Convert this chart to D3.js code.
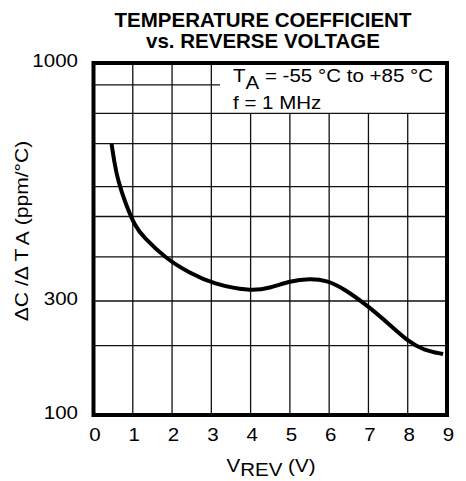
<!DOCTYPE html>
<html>
<head>
    <meta charset="utf-8">
    <style>
        body {
            margin: 0;
            background: #fff;
        }

        svg {
            display: block;
            font-family: "Liberation Sans", Arial, sans-serif;
        }

        .title {
            font-size: 20.5px;
            font-weight: bold;
            text-anchor: middle;
        }

        .label {
            font-size: 18px;
            fill: #000;
        }

        .grid line {
            stroke: #111;
            stroke-width: 1.3;
        }
    </style>
</head>

<body>
    <svg width="466" height="481"></svg>
</body>

<script src="https://d3js.org/d3.v7.min.js"></script>

<script>
    // values
    let vrev = [0.46, 0.53, 0.62, 0.80, 1.06, 1.27, 1.82, 2.46, 3.05, 3.98, 4.49, 5.0, 5.51, 5.94, 6.36, 7.01, 7.55, 8.01, 8.40, 8.90]
    let tempco = [664, 605, 553, 495, 437, 415, 373, 345, 327, 315, 320, 332, 336, 333, 320, 284, 238, 203, 187, 180]

    let xTicks = [0, 1, 2, 3, 4, 5, 6, 7, 8, 9]
    let yTicks = [100, 300, 1000]
    let yGrid = [195, 300, 375, 460, 535, 665, 775, 895]

    let titleLines = ["TEMPERATURE COEFFICIENT", "vs. REVERSE VOLTAGE"]

    let data = vrev.map((v, i) => ({ v: v, tc: tempco[i] }))

    let width = 466;
    let height = 481;
    let margin = { top: 63, right: 19, bottom: 66, left: 93.5 };

    // the scan is a bit wider than tall, so the lettering gets stretched sideways
    let stretch = 1.14

    let svg = d3.select("svg")

    let x = d3.scaleLinear()
        .domain([0, 9])
        .range([margin.left, width - margin.right])

    // the printed axis is not a clean log decade, 300 sits lower than it should
    let y = d3.scaleLog()
        .domain([100, 300, 1000])
        .range([height - margin.bottom, 301, margin.top])

    let plotTop = y(1000)
    let plotBottom = y(100)
    let legendTop = y(775)

    function label(parent, px, py, sx) {
        return parent.append("g")
            .attr("transform", `translate(${px},${py}) scale(${sx || stretch},1)`)
            .append("text")
            .attr("class", "label")
    }

    // grid
    let grid = svg.append("g").attr("class", "grid")

    grid.selectAll(".vline")
        .data(xTicks.slice(1, -1))
        .join("line")
        .attr("class", "vline")
        .attr("x1", d => x(d))
        .attr("x2", d => x(d))
        .attr("y1", d => d <= 3 ? plotTop : legendTop)
        .attr("y2", plotBottom)

    grid.selectAll(".hline")
        .data(yGrid)
        .join("line")
        .attr("class", "hline")
        .attr("x1", x(0))
        .attr("x2", d => d > 775 ? x(3.22) : x(9))
        .attr("y1", d => y(d))
        .attr("y2", d => y(d))

    // curve
    let line = d3.line()
        .x(d => x(d.v))
        .y(d => y(d.tc))
        .curve(d3.curveBasis)

    svg.append("path")
        .datum(data)
        .attr("fill", "none")
        .attr("stroke", "#000")
        .attr("stroke-width", 4)
        .attr("d", line)

    // frame
    svg.append("rect")
        .attr("x", x(0))
        .attr("y", plotTop)
        .attr("width", x(9) - x(0))
        .attr("height", plotBottom - plotTop)
        .attr("fill", "none")
        .attr("stroke", "#000")
        .attr("stroke-width", 4)

    // tick labels
    xTicks.forEach(d => {
        label(svg, x(d) + 1.5, plotBottom + 26)
            .attr("text-anchor", "middle")
            .text(d)
    })

    yTicks.forEach(d => {
        label(svg, x(0) - 15.5, y(d))
            .attr("dy", "0.22em")
            .attr("text-anchor", "end")
            .text(d)
    })

    // title
    svg.append("g")
        .selectAll("text")
        .data(titleLines)
        .join("text")
        .attr("class", "title")
        .attr("x", 263)
        .attr("y", (d, i) => 27 + i * 21)
        .text(d => d)

    // conditions box
    let t1 = label(svg, 233, 82)
    t1.append("tspan").text("T")
    t1.append("tspan").attr("dy", 7).text("A")
    t1.append("tspan").attr("dy", -7).text(" = -55 °C to +85 °C")

    label(svg, 233, 109).text("f = 1 MHz")

    // axis titles
    let xt = label(svg, 271, 472)
        .attr("text-anchor", "middle")
    xt.append("tspan").text("V")
    xt.append("tspan").attr("dy", 4).text("REV")
    xt.append("tspan").attr("dy", -4).text(" (V)")

    let yt = svg.append("g")
        .attr("transform", "translate(28,231) rotate(-90) scale(1.17,1)")
        .append("text")
        .attr("class", "label")
        .attr("text-anchor", "middle")
    yt.append("tspan").text("ΔC /Δ T")
    yt.append("tspan").attr("dx", 3).attr("dy", 1).text("A")
    yt.append("tspan").attr("dy", -1).text(" (ppm/°C)")
</script>
</html>
